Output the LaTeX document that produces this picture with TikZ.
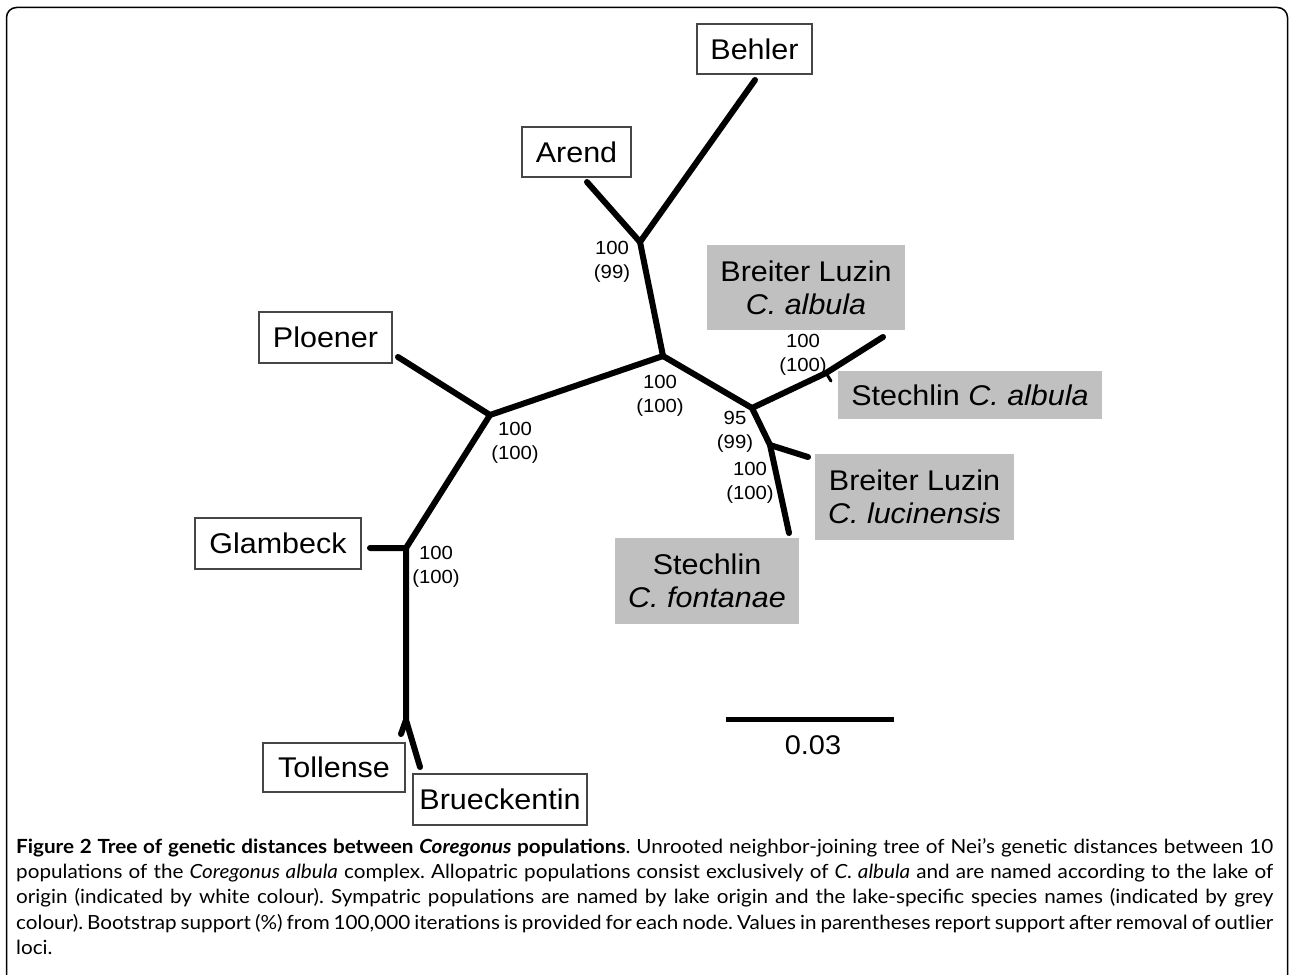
\documentclass[tikz,border=0pt]{standalone}
\usepackage{fontspec}
\setmainfont{Liberation Sans}[FakeStretch=1.07]
\newfontfamily\capfont{Lato}[FakeStretch=1.06]
\definecolor{boxgrey}{RGB}{192,192,192}
\definecolor{edgegrey}{RGB}{70,70,70}
\newcommand{\capline}[1]{\makebox[1257pt][s]{#1}}
\begin{document}
\frenchspacing
\begin{tikzpicture}[x=1pt,y=-1pt,
  branch/.style={line width=6pt, line cap=round, line join=round},
  wbox/.style={draw=edgegrey, line width=1.3pt, fill=white, inner sep=0pt, align=center,
    font=\fontsize{28.5}{33}\selectfont},
  gbox/.style={fill=boxgrey, inner sep=0pt, align=center, font=\fontsize{28.5}{33}\selectfont},
  boot/.style={inner sep=0pt, align=center, font=\fontsize{19}{24.5}\selectfont},
  frame/.style={line width=1.5pt, rounded corners=10pt}]
\useasboundingbox (0,0) rectangle (1289,974);
\draw[frame] (6.5,990) -- (6.5,7.5) -- (1287.5,7.5) -- (1287.5,990);

% label boxes
\node[wbox, minimum width=115pt, minimum height=50pt] (behler) at (754.5,49) {Behler};
\node[wbox, minimum width=109pt, minimum height=50pt] (arend) at (576.5,152) {Arend};
\node[wbox, minimum width=133pt, minimum height=51pt] (ploener) at (325.5,337.5) {Ploener};
\node[wbox, minimum width=166pt, minimum height=51pt] (glambeck) at (278,543.5) {Glambeck};
\node[wbox, minimum width=142pt, minimum height=49pt] (tollense) at (334,767.5) {Tollense};
\node[wbox, minimum width=174pt, minimum height=51pt] (brueck) at (500,799.5) {Brueckentin};
\node[gbox, minimum width=198pt, minimum height=85pt] (blalb) at (806,287.5) {Breiter Luzin\\\textit{C. albula}};
\node[gbox, minimum width=264pt, minimum height=48pt] (stalb) at (970,395) {Stechlin \textit{C. albula}};
\node[gbox, minimum width=199pt, minimum height=86pt] (bluc) at (914.5,497) {Breiter Luzin\\\textit{C. lucinensis}};
\node[gbox, minimum width=184pt, minimum height=86pt] (stfon) at (707,581) {Stechlin\\\textit{C. fontanae}};

% tree junctions and tips
\coordinate (tBehler) at (755,80);
\coordinate (tArend) at (587,182);
\coordinate (jA) at (640,242);
\coordinate (jB) at (663,356);
\coordinate (jC) at (490,415);
\coordinate (tPloener) at (398,357);
\coordinate (jD) at (406,548);
\coordinate (tGlambeck) at (370,548);
\coordinate (jE) at (406,720);
\coordinate (tTollense) at (401,734);
\coordinate (tBrueck) at (420,767);
\coordinate (jF) at (752,408);
\coordinate (jG) at (826,373);
\coordinate (tBLalb) at (883,337);
\coordinate (tSTalb) at (831,381);
\coordinate (jH) at (770,445);
\coordinate (tBLluc) at (808,457);
\coordinate (tSTfon) at (789,533);

\draw[branch] (tArend) -- (jA) -- (tBehler);
\draw[branch] (jA) -- (jB) -- (jC) -- (tPloener);
\draw[branch] (jC) -- (jD) -- (tGlambeck);
\draw[branch] (jD) -- (jE) -- (tBrueck);
\draw[branch] (jE) -- (tTollense);
\draw[branch] (jB) -- (jF) -- (jG) -- (tBLalb);
\draw[line width=3pt, line cap=round] (jG) -- (tSTalb);
\draw[branch] (jF) -- (jH) -- (tSTfon);
\draw[branch] (jH) -- (tBLluc);

% bootstrap values
\node[boot] (bA) at (612,262) {100\\(99)};
\node[boot] (bB) at (660,396) {100\\(100)};
\node[boot] (bC) at (515,443) {100\\(100)};
\node[boot] (bD) at (436,567) {100\\(100)};
\node[boot] (bG) at (803,355) {100\\(100)};
\node[boot] (bF) at (735,432) {95\\(99)};
\node[boot] (bH) at (750,483) {100\\(100)};

% scale bar
\coordinate (s1) at (726,719);
\coordinate (s2) at (894,719);
\draw[line width=5pt] (s1) -- (s2);
\node[inner sep=0pt, font=\fontsize{27}{30}\selectfont] (scale) at (813,745) {0.03};

% caption
\node[anchor=north west, inner sep=0pt, align=left,
  font=\capfont\fontsize{19.5}{25.3}\selectfont] (caption) at (16,838) {%
\capline{\textbf{Figure 2 Tree of genetic distances between \textit{Coregonus} populations}. Unrooted neighbor-joining tree of Nei’s genetic distances between 10}\\
\capline{populations of the \textit{Coregonus albula} complex. Allopatric populations consist exclusively of \textit{C. albula} and are named according to the lake of}\\
\capline{origin (indicated by white colour). Sympatric populations are named by lake origin and the lake-specific species names (indicated by grey}\\
\capline{colour). Bootstrap support (\%) from 100,000 iterations is provided for each node. Values in parentheses report support after removal of outlier}\\
loci.};
\end{tikzpicture}
\end{document}
